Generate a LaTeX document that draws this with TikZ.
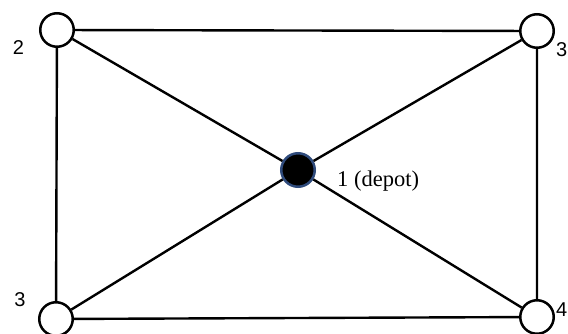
\documentclass[tikz,border=0pt]{standalone}
\usepackage{fontspec}
\newfontfamily\numfont{Liberation Sans}
\newfontfamily\depotfont{Liberation Serif}
\usepackage{tikz}
\usetikzlibrary{positioning}
\definecolor{depotblue}{HTML}{2F4B7C}

\begin{document}
\begin{tikzpicture}[x=1pt,y=-1pt,
    city/.style={circle,draw=black,line width=2.5pt,fill=white,
                 minimum size=33.5pt,inner sep=0pt},
    depot/.style={city,fill=black,draw=depotblue},
    road/.style={line width=2.4pt},
    num/.style={font=\numfont\fontsize{20}{22}\selectfont,inner sep=0pt}]
        \useasboundingbox (0,0) rectangle (568,334);
        \node[city] (topleft) at (57,30) {};
        \node[city] (topright) at (537,31) {};
        \node[depot] (depot) at (298,170) {};
        \node[city] (botleft) at (56,319) {};
        \node[city] (botright) at (537,317) {};
        \draw[road] (topleft) -- (topright) -- (botright) -- (botleft) -- (topleft);
        \draw[road] (topleft) -- (depot) -- (botright);
        \draw[road] (botleft) -- (depot) -- (topright);
        \node[num] (ltopleft) at (18.5,48) {2};
        \node[num,anchor=east] (ltopright) at (567.5,50) {3};
        \node[num] (lbotleft) at (20,300) {3};
        \node[num,anchor=east] (lbotright) at (567.5,310) {4};
        \node[font=\depotfont\fontsize{22.5}{24}\selectfont,inner sep=0pt,
              anchor=base west] (ldepot) at (337,187) {1 (depot)};
      \end{tikzpicture}
\end{document}
